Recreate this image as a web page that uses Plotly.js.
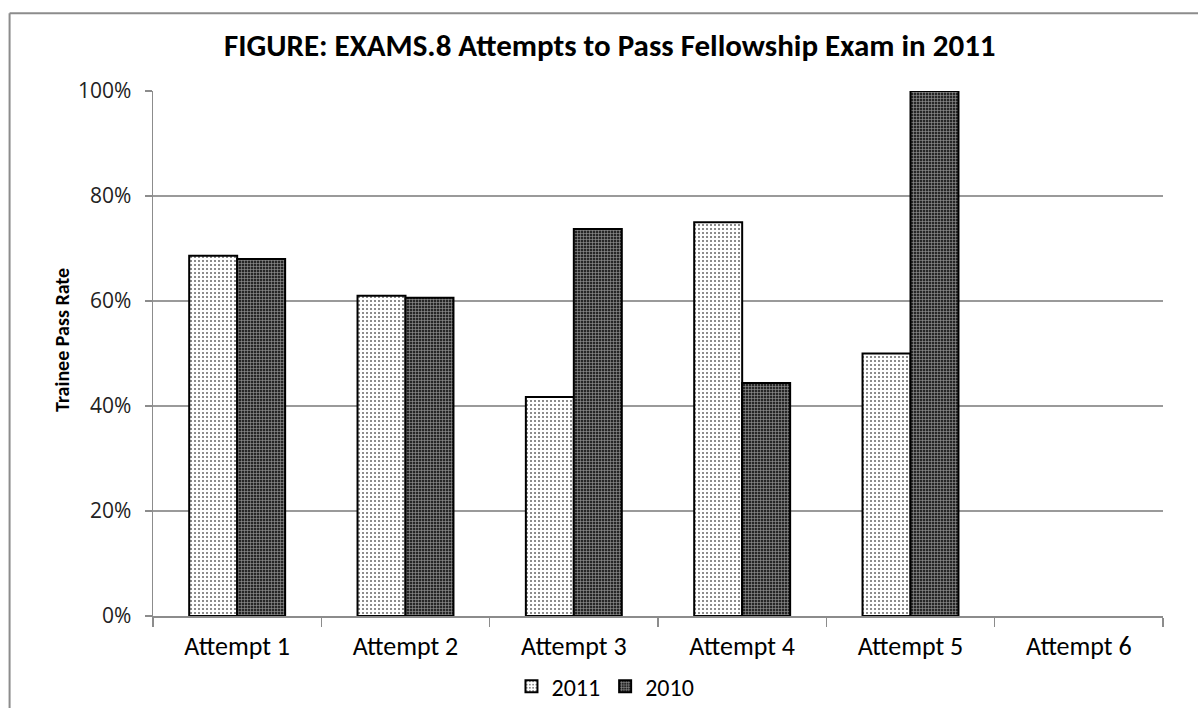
<!DOCTYPE html>
<html>
<head>
<meta charset="utf-8">
<script src="https://cdn.plot.ly/plotly-3.0.1.min.js"></script>
<style>html,body{margin:0;padding:0;background:#fff;}#chart{width:1198px;height:708px;}</style>
</head>
<body>
<div id="chart"></div>
<script>
var categories = ["Attempt 1", "Attempt 2", "Attempt 3", "Attempt 4", "Attempt 5", "Attempt 6"];
var series2011 = [0.686, 0.610, 0.417, 0.750, 0.500, null];
var series2010 = [0.680, 0.606, 0.737, 0.444, 1.000, null];
var yTickVals = [0, 0.2, 0.4, 0.6, 0.8, 1.0];
var yTickText = ["0%", "20%", "40%", "60%", "80%", "100%"];
var yAxisTitle = "Trainee Pass Rate";

var lblFont = "Carlito, 'Liberation Sans Narrow', 'DejaVu Sans Condensed', Arial, sans-serif";

var traces = [
  {
    type: "bar", name: "2011", x: categories, y: series2011,
    marker: {
      color: "#ffffff",
      line: {color: "#000000", width: 2},
      pattern: {shape: ".", fgcolor: "#666666", bgcolor: "#ffffff", size: 4, solidity: 0.2}
    },
    hoverinfo: "x+y"
  },
  {
    type: "bar", name: "2010", x: categories, y: series2010,
    marker: {
      color: "#333333",
      line: {color: "#000000", width: 2},
      pattern: {shape: "+", fgcolor: "#9a9a9a", bgcolor: "#262626", size: 3, solidity: 0.35}
    },
    hoverinfo: "x+y"
  }
];

var layout = {
  width: 1198, height: 708,
  paper_bgcolor: "#ffffff", plot_bgcolor: "#ffffff",
  margin: {l: 153, r: 35, t: 91, b: 92, pad: 0, autoexpand: false},
  barmode: "group", bargap: 0.43, bargroupgap: 0,
  title: {
    text: "<b>FIGURE: EXAMS.8 Attempts to Pass Fellowship Exam in 2011</b>",
    font: {family: lblFont, size: 31, color: "#000"},
    x: 0.509, xref: "container", xanchor: "center",
    y: 0.936, yref: "container", yanchor: "middle"
  },
  xaxis: {
    type: "category", automargin: false,
    showgrid: false, showline: true, linecolor: "#8c8c8c", linewidth: 1.5,
    ticks: "outside", ticklen: 9, tickcolor: "#8c8c8c", tickwidth: 1.5,
    tickson: "boundaries",
    tickfont: {family: lblFont, size: 26, color: "#000"},
    ticklabelstandoff: 6,
    zeroline: false
  },
  yaxis: {
    range: [0, 1], tickvals: yTickVals, ticktext: yTickText, automargin: false,
    showgrid: true, gridcolor: "#9a9a9a", gridwidth: 1.2,
    showline: true, linecolor: "#8c8c8c", linewidth: 1.5,
    ticks: "outside", ticklen: 7, tickcolor: "#8c8c8c", tickwidth: 1.2,
    tickfont: {family: "'Open Sans', 'DejaVu Sans', sans-serif", size: 21, color: "#222"},
    ticklabelstandoff: 9,
    zeroline: false
  },
  annotations: [
    {text: "<b>" + yAxisTitle + "</b>", xref: "paper", yref: "paper", x: -0.090, y: 0.526,
     textangle: -90, showarrow: false, xanchor: "center", yanchor: "middle",
     font: {family: lblFont, size: 20, color: "#000"}}
  ],
  legend: {
    orientation: "h", x: 0.448, xanchor: "center", yref: "container", y: 0.062, yanchor: "top",
    font: {family: lblFont, size: 24, color: "#000"},
    itemwidth: 30, traceorder: "normal"
  },
  shapes: [
    {type: "line", xref: "paper", yref: "paper", x0: -0.142, x1: 1.1, y0: 1.148, y1: 1.148, line: {color: "#8c8c8c", width: 2}},
    {type: "line", xref: "paper", yref: "paper", x0: -0.142, x1: -0.142, y0: 1.148, y1: -0.3, line: {color: "#8c8c8c", width: 2}}
  ],
  showlegend: true
};

Plotly.newPlot("chart", traces, layout, {displayModeBar: false, staticPlot: true});
</script>
</body>
</html>
